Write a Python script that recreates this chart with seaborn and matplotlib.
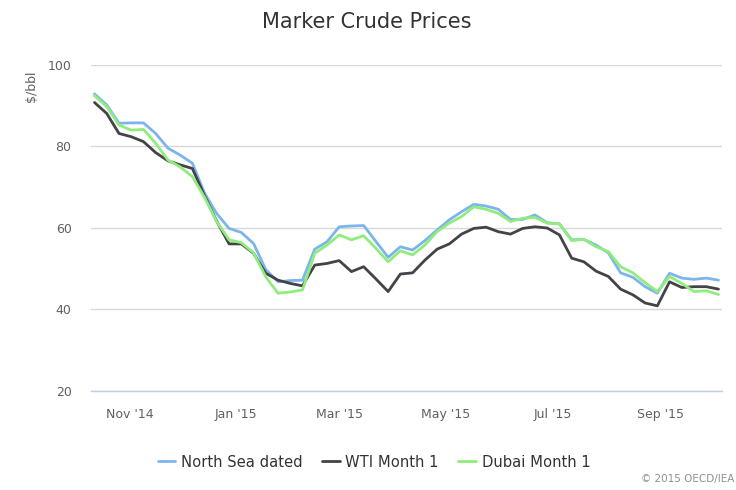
import matplotlib
matplotlib.use("Agg")
import matplotlib.pyplot as plt
from matplotlib.lines import Line2D
import numpy as np
import pandas as pd
import seaborn as sns

# ---- data ----
start_date = "2014-10-12"
series_names = ["North Sea dated", "WTI Month 1", "Dubai Month 1"]
north_sea = [92.9, 90.2, 85.7, 85.8, 85.8, 83.2, 79.6, 77.9, 75.9, 68.5, 63.5, 59.9, 58.9,
             56.2, 49.8, 46.8, 47.1, 47.2, 54.8, 56.6, 60.3, 60.5, 60.6, 56.7, 52.8, 55.4,
             54.6, 56.9, 59.5, 62.0, 64.0, 65.8, 65.4, 64.6, 62.1, 62.1, 63.2, 61.3, 61.0,
             57.1, 57.2, 55.8, 53.9, 49.0, 47.9, 45.6, 44.0, 48.9, 47.7, 47.4, 47.7, 47.2]
wti = [90.8, 88.1, 83.2, 82.4, 81.2, 78.5, 76.5, 75.5, 74.6, 67.9, 61.6, 56.1, 56.1,
       53.8, 48.9, 47.2, 46.4, 45.8, 50.9, 51.3, 52.0, 49.3, 50.5, 47.5, 44.4, 48.7,
       49.0, 52.1, 54.8, 56.1, 58.5, 59.9, 60.2, 59.1, 58.5, 59.9, 60.3, 60.0, 58.3,
       52.6, 51.7, 49.4, 48.1, 45.0, 43.6, 41.6, 40.9, 46.8, 45.4, 45.6, 45.6, 45.0]
dubai = [92.5, 89.8, 85.3, 84.0, 84.2, 80.8, 76.7, 75.0, 72.6, 67.5, 61.5, 57.1, 56.4,
         53.9, 48.0, 44.0, 44.3, 44.8, 53.8, 55.8, 58.3, 57.1, 58.1, 55.0, 51.7, 54.4,
         53.4, 55.8, 59.1, 61.2, 62.8, 65.2, 64.6, 63.6, 61.6, 62.4, 62.6, 61.2, 61.0,
         56.9, 57.2, 55.4, 54.2, 50.5, 49.0, 46.6, 44.4, 48.1, 46.4, 44.4, 44.6, 43.7]
tick_dates = ["2014-11-01", "2015-01-01", "2015-03-01", "2015-05-01", "2015-07-01", "2015-09-01"]
tick_labels = ["Nov '14", "Jan '15", "Mar '15", "May '15", "Jul '15", "Sep '15"]
y_ticks = [20, 40, 60, 80, 100]
colors = ["#7cb5ec", "#434348", "#90ed7d"]

dates = pd.date_range(start_date, periods=len(north_sea), freq="7D")
df = pd.concat([
    pd.DataFrame({"date": dates, "price": vals, "series": name})
    for name, vals in zip(series_names, [north_sea, wti, dubai])
], ignore_index=True)

sns.set_theme(style="white")
plt.rcParams["font.family"] = ["DejaVu Sans"]

W, H = 736, 490
fig = plt.figure(figsize=(W / 100, H / 100), dpi=100)
ax = fig.add_axes([91 / W, 1 - 391 / H, (722 - 91) / W, (391 - 65) / H])

sns.lineplot(data=df, x="date", y="price", hue="series", hue_order=series_names,
             palette=colors, linewidth=2.0, legend=False, ax=ax)

ax.set_ylim(20, 100)
ax.set_yticks(y_ticks)
ax.set_xlim(pd.Timestamp(start_date) - pd.Timedelta(days=2),
            dates[-1] + pd.Timedelta(days=2))
ax.set_xticks(pd.to_datetime(tick_dates))
ax.set_xticklabels(tick_labels)

ax.yaxis.grid(True, color="#d8d8d8", linewidth=1)
ax.xaxis.grid(False)
for side in ["left", "right", "top"]:
    ax.spines[side].set_visible(False)
ax.spines["bottom"].set_color("#c0d0e0")
ax.spines["bottom"].set_linewidth(1)
ax.spines["bottom"].set_zorder(3)
ax.tick_params(axis="x", colors="#c0d0e0", length=7, width=1, direction="out",
               pad=5, labelcolor="#606060", labelsize=9)
ax.tick_params(axis="y", length=0, pad=14, labelcolor="#606060", labelsize=9)
ax.set_xlabel("")
ax.set_ylabel("")

fig.text(31 / W, 1 - 86 / H, r"\$/bbl", rotation=90, ha="center", va="center",
         color="#606060", fontsize=9)
fig.text(367 / W, 1 - 22 / H, "Marker Crude Prices", ha="center", va="center",
         color="#333333", fontsize=15)

handles = [Line2D([0], [0], color=c, linewidth=2) for c in colors]
fig.legend(handles, series_names, loc="center", bbox_to_anchor=(374 / W, 1 - 462 / H),
           ncol=3, frameon=False, fontsize=10.6, handlelength=1.2, handletextpad=0.4,
           columnspacing=1.3, labelcolor="#333333")
fig.text(734 / W, 1 - 479 / H, "© 2015 OECD/IEA", ha="right", va="center",
         color="#909090", fontsize=7.5)

fig.savefig("out.png", dpi=100)
